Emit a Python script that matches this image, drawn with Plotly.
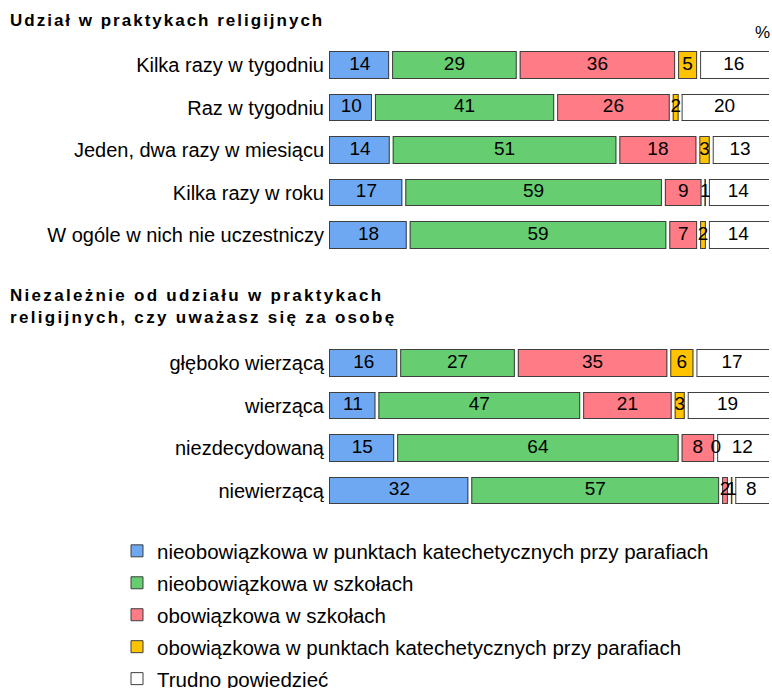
import numpy as np
import plotly.graph_objects as go

# ---- data -------------------------------------------------------------
series_names = [
    "nieobowiązkowa w punktach katechetycznych przy parafiach",
    "nieobowiązkowa w szkołach",
    "obowiązkowa w szkołach",
    "obowiązkowa w punktach katechetycznych przy parafiach",
    "Trudno powiedzieć",
]
series_colors = ["#6FA8F2", "#66CE70", "#FF7B86", "#FFC300", "#FFFFFF"]

practice_categories = [
    "Kilka razy w tygodniu",
    "Raz w tygodniu",
    "Jeden, dwa razy w miesiącu",
    "Kilka razy w roku",
    "W ogóle w nich nie uczestniczy",
]
practice_parafie_opt = [14, 10, 14, 17, 18]
practice_szkola_opt = [29, 41, 51, 59, 59]
practice_szkola_obl = [36, 26, 18, 9, 7]
practice_parafie_obl = [5, 2, 3, 1, 2]
practice_trudno = [16, 20, 13, 14, 14]

belief_categories = [
    "głęboko wierzącą",
    "wierząca",
    "niezdecydowaną",
    "niewierzącą",
]
belief_parafie_opt = [16, 11, 15, 32]
belief_szkola_opt = [27, 47, 64, 57]
belief_szkola_obl = [35, 21, 8, 2]
belief_parafie_obl = [6, 3, 0, 1]
belief_trudno = [17, 19, 12, 8]

title_top = "Udział w praktykach religijnych"
title_bottom = "Niezależnie od udziału w praktykach<br>religijnych, czy uważasz się za osobę"

# ---- geometry (pixels) -----------------------------------------------
W, H = 772, 688
ML, MR = 329, 3
PLOT_W = W - ML - MR
ROW = 42.5
BAR_W = 0.626
OUTLINE = "#3F3F3F"
FONT = "Liberation Sans, Arial, sans-serif"


def xp(px):
    return (px - ML) / PLOT_W


def yp(py):
    return 1 - py / H


panels = [
    dict(cats=practice_categories,
         vals=[practice_parafie_opt, practice_szkola_opt, practice_szkola_obl,
               practice_parafie_obl, practice_trudno],
         first_center=65.0, yaxis="y", layout_key="yaxis"),
    dict(cats=belief_categories,
         vals=[belief_parafie_opt, belief_szkola_opt, belief_szkola_obl,
               belief_parafie_obl, belief_trudno],
         first_center=363.0, yaxis="y2", layout_key="yaxis2"),
]

fig = go.Figure()

# unit conversions for the separating gaps between segments
px_per_unit = PLOT_W / 100.0
edge_off = 2.0 / px_per_unit
y_px = 1.0 / ROW

for p_i, panel in enumerate(panels):
    cats = panel["cats"]
    ypos = np.arange(len(cats))
    vals = np.array(panel["vals"], dtype=float)  # (series, rows)

    # stacked, normalised to 100 %
    for s_i, name in enumerate(series_names):
        fig.add_trace(go.Bar(
            x=vals[s_i], y=ypos, orientation="h", name=name,
            marker=dict(color=series_colors[s_i], line=dict(color=OUTLINE, width=1)),
            width=BAR_W, xaxis="x", yaxis=panel["yaxis"],
            legendgroup=f"g{s_i}", showlegend=(p_i == 0),
            hoverinfo="skip",
        ))

    totals = vals.sum(axis=0)
    norm = vals / totals * 100.0
    cum = np.cumsum(norm, axis=0)
    starts = cum - norm

    gap_x, gap_y, edge_x, edge_y = [], [], [], []
    lab_x, lab_y, lab_t = [], [], []
    for r in range(len(cats)):
        bounds = sorted(set(np.round(cum[:-1, r], 6)))
        y0, y1 = r - BAR_W / 2, r + BAR_W / 2
        for b in bounds:
            gap_x += [b, b, None]
            gap_y += [y0 - 1.5 * y_px, y1 + 1.5 * y_px, None]
            for off in (-edge_off, edge_off):
                edge_x += [b + off, b + off, None]
                edge_y += [y0, y1, None]
        for s_i in range(len(series_names)):
            lab_x.append(starts[s_i, r] + norm[s_i, r] / 2)
            lab_y.append(r)
            lab_t.append(str(int(vals[s_i, r])))

    fig.add_trace(go.Scatter(
        x=gap_x, y=gap_y, mode="lines", line=dict(color="white", width=3),
        xaxis="x", yaxis=panel["yaxis"], showlegend=False, hoverinfo="skip"))
    fig.add_trace(go.Scatter(
        x=edge_x, y=edge_y, mode="lines", line=dict(color=OUTLINE, width=1),
        xaxis="x", yaxis=panel["yaxis"], showlegend=False, hoverinfo="skip"))
    fig.add_trace(go.Scatter(
        x=lab_x, y=lab_y, text=lab_t, mode="text", textposition="middle center",
        textfont=dict(family=FONT, size=19, color="#000000"),
        xaxis="x", yaxis=panel["yaxis"], showlegend=False, hoverinfo="skip"))

    n = len(cats)
    top_px = panel["first_center"] - ROW / 2
    bot_px = top_px + n * ROW
    fig.layout[panel["layout_key"]] = dict(
        domain=[yp(bot_px), yp(top_px)],
        range=[n - 0.5, -0.5],
        tickmode="array", tickvals=list(ypos), ticktext=cats,
        ticks="", showgrid=False, zeroline=False, showline=False,
        ticklabelstandoff=4,
        tickfont=dict(family=FONT, size=20, color="#000000"),
        fixedrange=True,
    )

fig.update_layout(
    width=W, height=H,
    margin=dict(l=ML, r=MR, t=0, b=0, autoexpand=False),
    paper_bgcolor="white", plot_bgcolor="white",
    barmode="stack", barnorm="percent",
    xaxis=dict(range=[0, 100], domain=[0, 1], visible=False, fixedrange=True),
    showlegend=True,
    legend=dict(
        xref="container", yref="container",
        x=117 / W, y=1 - 531 / H, xanchor="left", yanchor="top",
        traceorder="grouped", tracegroupgap=2.3,
        font=dict(family=FONT, size=20.5, color="#000000"),
        bgcolor="rgba(0,0,0,0)",
    ),
    font=dict(family=FONT, color="#000000"),
    annotations=[
        dict(text=f'<b><span style="letter-spacing:2px">{title_top}</span></b>',
             xref="paper", yref="paper", x=xp(8), y=yp(20),
             xanchor="left", yanchor="middle", showarrow=False,
             font=dict(family=FONT, size=17, color="#000000")),
        dict(text="<b>" + "<br>".join(
                f'<span style="letter-spacing:2.3px">{t}</span>'
                for t in title_bottom.split("<br>")) + "</b>",
             xref="paper", yref="paper", x=xp(8), y=yp(306),
             xanchor="left", yanchor="middle", align="left", showarrow=False,
             font=dict(family=FONT, size=17, color="#000000")),
        dict(text="%", xref="paper", yref="paper", x=xp(762), y=yp(33),
             xanchor="center", yanchor="middle", showarrow=False,
             font=dict(family=FONT, size=17, color="#000000")),
    ],
)

fig.write_html("out.html")
